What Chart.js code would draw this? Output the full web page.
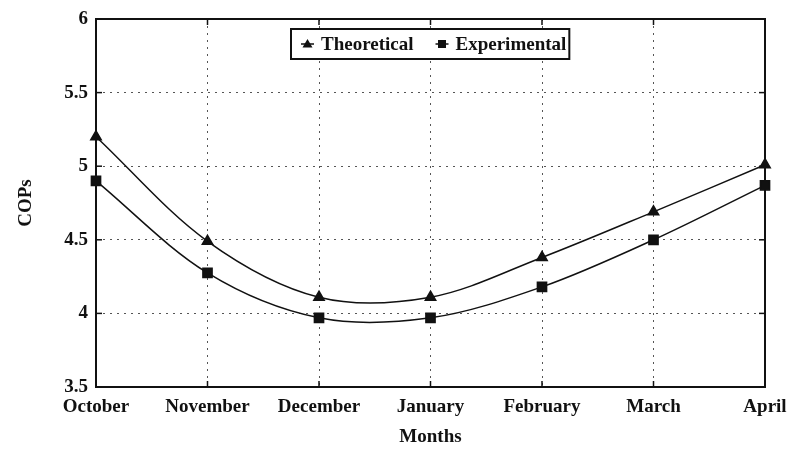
<!DOCTYPE html>
<html><head><meta charset="utf-8">
<script src="https://cdn.jsdelivr.net/npm/chart.js@4"></script>
<style>html,body{margin:0;padding:0;background:#fff}#wrap{width:792px;height:450px}</style>
</head><body><div id="wrap"><canvas id="c"></canvas></div>
<script>
const months = ['October','November','December','January','February','March','April'];
const theoretical = [5.2, 4.49, 4.11, 4.11, 4.38, 4.69, 5.01];
const experimental = [4.9, 4.275, 3.97, 3.97, 4.18, 4.5, 4.87];
const seriesLabels = ['Theoretical', 'Experimental'];
const yMin = 3.5, yMax = 6, yStep = 0.5;
const xTitle = 'Months', yTitle = 'COPs';

const FONT = 'Liberation Serif';
const ink = '#111';

const framePlugin = {
  id: 'frame',
  afterDatasetsDraw(chart) {
    const {ctx, chartArea: a} = chart;
    ctx.save();
    ctx.strokeStyle = ink;
    ctx.lineWidth = 2;
    ctx.strokeRect(a.left, a.top, a.right - a.left, a.bottom - a.top);
    ctx.lineWidth = 1.5;
    const ys = chart.scales.y, xs = chart.scales.x;
    ys.ticks.forEach(t => {
      const y = ys.getPixelForValue(t.value);
      ctx.beginPath(); ctx.moveTo(a.left, y); ctx.lineTo(a.left + 6, y); ctx.stroke();
      ctx.beginPath(); ctx.moveTo(a.right, y); ctx.lineTo(a.right - 6, y); ctx.stroke();
    });
    xs.ticks.forEach((t, i) => {
      const x = xs.getPixelForTick(i);
      ctx.beginPath(); ctx.moveTo(x, a.bottom); ctx.lineTo(x, a.bottom - 6); ctx.stroke();
      ctx.beginPath(); ctx.moveTo(x, a.top); ctx.lineTo(x, a.top + 6); ctx.stroke();
    });
    ctx.font = 'bold 19px "' + FONT + '"';
    ctx.textBaseline = 'middle';
    const ds = chart.data.datasets;
    const mw = 20, gap = 22, padL = 10, padR = 3;
    let total = padL + padR;
    ds.forEach((d, i) => { total += mw + ctx.measureText(d.label).width + (i < ds.length - 1 ? gap : 0); });
    const cx = (a.left + a.right) / 2;
    const bx = Math.round(cx - total / 2), by = a.top + 10, bh = 30;
    ctx.fillStyle = '#fff';
    ctx.fillRect(bx, by, total, bh);
    ctx.strokeStyle = ink; ctx.lineWidth = 2;
    ctx.strokeRect(bx, by, total, bh);
    let x = bx + padL;
    const cy = by + bh / 2;
    ds.forEach((d, i) => {
      ctx.fillStyle = ink; ctx.strokeStyle = ink; ctx.lineWidth = 1.5;
      ctx.beginPath(); ctx.moveTo(x, cy); ctx.lineTo(x + 13, cy); ctx.stroke();
      const mx = x + 6.5;
      ctx.beginPath();
      if (d.pointStyle === 'triangle') {
        ctx.moveTo(mx, cy - 5); ctx.lineTo(mx + 5, cy + 3.5); ctx.lineTo(mx - 5, cy + 3.5); ctx.closePath();
      } else {
        ctx.rect(mx - 4, cy - 4, 8, 8);
      }
      ctx.fill();
      x += mw;
      ctx.fillStyle = ink;
      ctx.textAlign = 'left';
      ctx.fillText(d.label, x, cy + 1);
      x += ctx.measureText(d.label).width + gap;
    });
    ctx.restore();
  }
};

const axisFont = { family: FONT, size: 19, weight: 'bold' };

new Chart(document.getElementById('c'), {
  type: 'line',
  data: {
    labels: months,
    datasets: [
      { label: seriesLabels[0], data: theoretical, borderColor: ink, backgroundColor: ink,
        borderWidth: 1.5, tension: 0.33, pointStyle: 'triangle', pointRadius: 6, clip: false },
      { label: seriesLabels[1], data: experimental, borderColor: ink, backgroundColor: ink,
        borderWidth: 1.5, tension: 0.33, pointStyle: 'rect', pointRadius: 6.5, clip: false }
    ]
  },
  options: {
    responsive: true, maintainAspectRatio: false, animation: false,
    layout: { autoPadding: false, padding: { top: 19, right: 27, bottom: 0, left: 0 } },
    plugins: { legend: { display: false }, tooltip: { enabled: false } },
    scales: {
      x: {
        afterFit(s) { s.height = 63; s.paddingRight = 0; s.paddingLeft = 0; },
        grid: { color: '#555', lineWidth: 1, drawTicks: false },
        border: { display: false, dash: [2, 5] },
        ticks: { padding: 9, color: ink, font: axisFont, maxRotation: 0, autoSkip: false },
        title: { display: true, text: xTitle, color: ink, padding: { top: 0, bottom: 2 }, font: axisFont }
      },
      y: {
        min: yMin, max: yMax,
        afterFit(s) { s.width = 96; s.paddingTop = 0; s.paddingBottom = 0; },
        grid: { color: '#555', lineWidth: 1, drawTicks: false },
        border: { display: false, dash: [2, 5] },
        ticks: { stepSize: yStep, padding: 8, color: ink, font: axisFont,
                 callback: v => String(Math.round(v * 10) / 10) },
        title: { display: true, text: yTitle, color: ink, padding: { top: 15, bottom: 0 }, font: axisFont }
      }
    }
  },
  plugins: [framePlugin]
});
</script>
</body></html>
